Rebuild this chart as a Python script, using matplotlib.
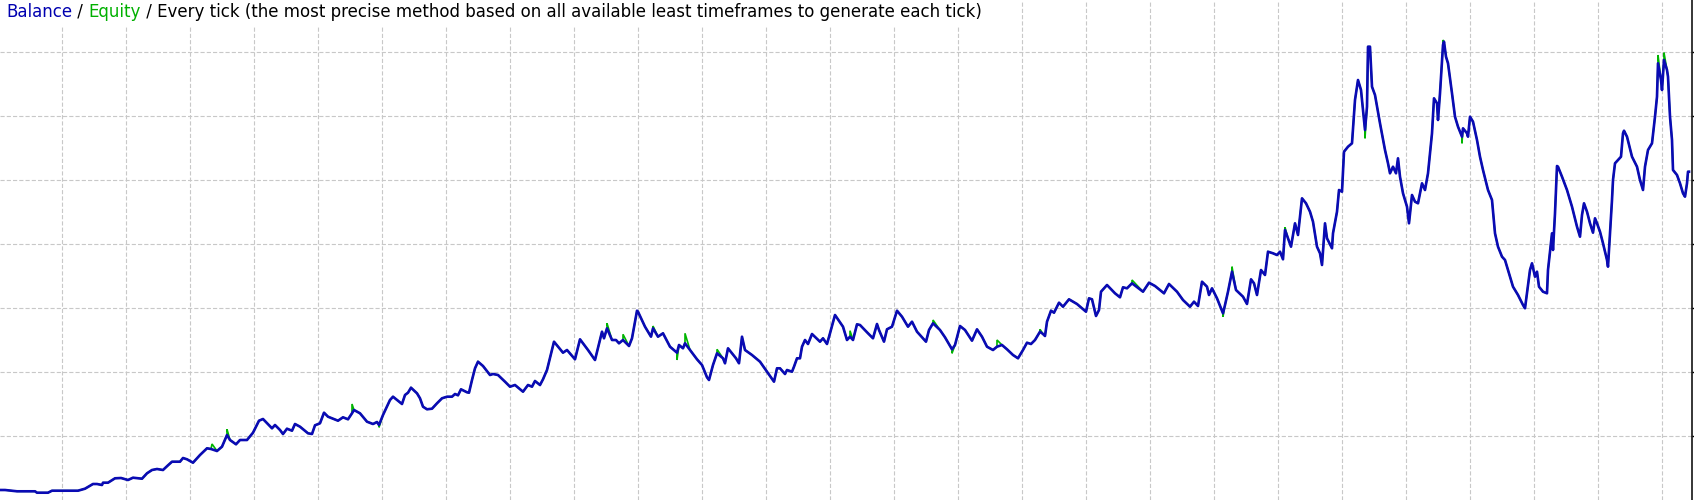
import numpy as np
import matplotlib
matplotlib.use('Agg')
import matplotlib.pyplot as plt

plt.rcParams['lines.scale_dashes'] = False
plt.rcParams['font.family'] = ['DejaVu Sans']

# balance curve (deal index, account balance)
deal = [0, 5, 17, 35, 37, 48, 52, 78, 85, 93, 97, 102, 103, 108, 115, 121, 128, 133, 142, 147,
        152, 157, 163, 168, 172, 180, 183, 187, 193, 200, 207, 211, 217, 222, 227, 230, 236, 240, 247, 253,
        259, 263, 272, 275, 280, 283, 287, 292, 295, 300, 308, 312, 315, 320, 324, 328, 338, 343, 348, 352,
        354, 360, 367, 373, 377, 379, 383, 390, 393, 402, 405, 408, 411, 417, 420, 423, 427, 432, 437, 442,
        447, 452, 455, 458, 461, 467, 469, 472, 475, 478, 483, 490, 493, 498, 505, 510, 515, 523, 528, 532,
        535, 540, 543, 547, 554, 563, 567, 575, 580, 588, 595, 602, 604, 607, 612, 616, 619, 623, 629, 632,
        637, 638, 645, 651, 653, 658, 663, 670, 677, 679, 683, 685, 690, 697, 702, 707, 709, 713, 717, 723,
        725, 728, 736, 739, 742, 745, 752, 760, 767, 774, 777, 780, 785, 787, 792, 794, 797, 800, 802, 805,
        808, 812, 820, 823, 827, 830, 835, 843, 847, 850, 853, 857, 860, 868, 873, 877, 879, 884, 887, 892,
        897, 902, 908, 912, 917, 926, 929, 933, 940, 945, 952, 955, 960, 965, 972, 977, 982, 987, 993, 997,
        1002, 1007, 1013, 1018, 1023, 1027, 1031, 1035, 1040, 1043, 1045, 1047, 1051, 1054, 1059, 1063, 1069, 1077, 1086, 1089,
        1092, 1096, 1099, 1101, 1107, 1115, 1120, 1123, 1127, 1132, 1143, 1149, 1155, 1164, 1169, 1177, 1183, 1190, 1194, 1198,
        1202, 1207, 1209, 1212, 1217, 1223, 1225, 1228, 1232, 1236, 1243, 1247, 1251, 1254, 1257, 1261, 1265, 1268, 1273, 1277,
        1280, 1283, 1285, 1288, 1291, 1295, 1298, 1302, 1306, 1310, 1313, 1317, 1320, 1322, 1325, 1327, 1332, 1333, 1337, 1339,
        1342, 1344, 1348, 1352, 1355, 1358, 1361, 1363, 1365, 1367, 1368, 1370, 1372, 1375, 1380, 1385, 1388, 1390, 1393, 1396,
        1398, 1400, 1403, 1407, 1409, 1412, 1415, 1418, 1422, 1425, 1428, 1432, 1434, 1437, 1438, 1440, 1443, 1444, 1446, 1448,
        1452, 1455, 1458, 1462, 1463, 1467, 1468, 1470, 1473, 1477, 1480, 1483, 1488, 1492, 1495, 1498, 1502, 1505, 1510, 1513,
        1518, 1523, 1525, 1527, 1530, 1532, 1535, 1537, 1539, 1543, 1547, 1548, 1552, 1553, 1555, 1557, 1558, 1562, 1567, 1572,
        1577, 1580, 1582, 1584, 1587, 1590, 1593, 1595, 1597, 1600, 1603, 1607, 1608, 1609, 1612, 1613, 1615, 1618, 1621, 1623,
        1624, 1627, 1632, 1637, 1640, 1643, 1645, 1648, 1652, 1655, 1657, 1658, 1661, 1662, 1664, 1667, 1668, 1670, 1672, 1673,
        1677, 1680, 1683, 1685, 1687, 1688, 1689]
balance = [10000, 10000, 9987, 9987, 9973, 9973, 9993, 9993, 10013, 10060, 10060, 10050, 10073, 10073, 10117, 10120, 10100, 10123, 10113, 10167,
           10200, 10210, 10200, 10247, 10283, 10283, 10320, 10307, 10273, 10350, 10417, 10410, 10390, 10433, 10550, 10500, 10457, 10500, 10500, 10573,
           10693, 10710, 10617, 10650, 10600, 10560, 10613, 10593, 10660, 10633, 10567, 10560, 10647, 10667, 10773, 10733, 10693, 10727, 10707, 10767,
           10800, 10767, 10683, 10660, 10680, 10650, 10750, 10900, 10933, 10860, 10950, 10973, 11023, 10967, 10917, 10833, 10807, 10813, 10867, 10917,
           10933, 10933, 10960, 10947, 11007, 10977, 10973, 11100, 11217, 11283, 11240, 11150, 11160, 11150, 11083, 11033, 11050, 10983, 11050, 11033,
           11090, 11050, 11107, 11200, 11483, 11373, 11400, 11307, 11507, 11400, 11300, 11583, 11517, 11617, 11500, 11500, 11467, 11500, 11440, 11517,
           11793, 11783, 11633, 11533, 11617, 11533, 11567, 11433, 11373, 11450, 11417, 11467, 11400, 11307, 11250, 11127, 11100, 11250, 11367, 11317,
           11267, 11417, 11317, 11267, 11533, 11400, 11350, 11283, 11183, 11083, 11217, 11217, 11160, 11200, 11183, 11233, 11317, 11317, 11433, 11500,
           11460, 11560, 11483, 11517, 11460, 11567, 11750, 11633, 11500, 11533, 11500, 11657, 11650, 11567, 11517, 11660, 11600, 11483, 11607, 11633,
           11793, 11733, 11633, 11683, 11583, 11483, 11600, 11667, 11600, 11527, 11407, 11450, 11640, 11600, 11493, 11607, 11533, 11433, 11400, 11433,
           11450, 11407, 11350, 11317, 11400, 11473, 11460, 11500, 11583, 11560, 11540, 11683, 11793, 11773, 11873, 11833, 11907, 11860, 11783, 11917,
           11907, 11740, 11800, 11983, 12050, 11967, 11927, 12027, 12017, 12067, 11983, 12073, 12040, 11967, 12060, 11983, 11900, 11833, 11883, 11840,
           12083, 12033, 11950, 12017, 11917, 11767, 11850, 11983, 12183, 12000, 11933, 11860, 12107, 12067, 11950, 12200, 12150, 12383, 12367, 12350,
           12383, 12307, 12600, 12517, 12433, 12667, 12550, 12917, 12867, 12783, 12683, 12433, 12367, 12250, 12667, 12517, 12417, 12567, 12783, 13000,
           12983, 13383, 13433, 13467, 13900, 14100, 14000, 13800, 13600, 13833, 14433, 14433, 14033, 13950, 13667, 13400, 13267, 13167, 13233, 13167,
           13317, 13133, 12967, 12833, 12667, 12950, 12883, 12867, 13067, 13000, 13167, 13567, 13917, 13867, 13700, 13967, 14450, 14483, 14333, 14267,
           13967, 13733, 13633, 13533, 13617, 13567, 13533, 13733, 13683, 13500, 13333, 13200, 13000, 12900, 12567, 12433, 12333, 12300, 12133, 12033,
           11950, 11850, 11817, 11967, 12200, 12267, 12133, 12183, 12033, 11983, 11967, 12200, 12567, 12400, 12767, 13240, 13233, 13133, 13000, 12833,
           12633, 12533, 12750, 12867, 12783, 12667, 12573, 12717, 12667, 12583, 12467, 12300, 12233, 12400, 12900, 13100, 13267, 13300, 13333, 13567,
           13593, 13533, 13333, 13233, 13100, 13000, 13233, 13400, 13467, 13733, 13933, 14267, 14100, 14000, 14300, 14200, 14133, 13733, 13500, 13200,
           13150, 13067, 12967, 12933, 13067, 13183, 13183]

# floating equity excursions (deal index, equity) where the green line shows
spike_deal = [212, 227, 352, 379, 607, 623, 653, 677, 685, 717, 850, 933, 952, 997,
              1040, 1132, 1223, 1232, 1285, 1365, 1443, 1462, 1658, 1664]
spike_equity = [10460, 10607, 10860, 10627, 11667, 11557, 11640, 11300, 11567, 11407, 11593, 11700, 11367, 11500,
                11607, 12100, 11733, 12233, 12627, 13517, 14500, 13467, 14350, 14373]

title_parts = [('Balance', '#0000B0'), (' / ', 'black'), ('Equity', '#00B000'),
               (' / Every tick (the most precise method based on all available least timeframes to generate each tick)', 'black')]

# equity = balance with the excursions merged in
eq_x = np.array(deal + spike_deal, dtype=float)
eq_y = np.array(balance + spike_equity, dtype=float)
order = np.argsort(eq_x, kind='stable')
eq_x, eq_y = eq_x[order], eq_y[order]

W, H = 1694, 500
fig = plt.figure(figsize=(W / 100, H / 100), dpi=100)
ax = fig.add_axes([0, 0, 1691.5 / W, 1])

ax.plot(eq_x, eq_y, color='#00B400', lw=1.2, solid_joinstyle='miter')
ax.plot(deal, balance, color='#0A0AB4', lw=1.9)

ax.set_xlim(0, 1691.5)
ax.set_ylim(9900, 14900)
ax.set_xticks(np.arange(62.3, 1690, 64))
ax.set_yticks(np.arange(10540, 14900, 640))
ax.grid(True, color='#C8C8C8', lw=0.8, dashes=(3, 1.5))
ax.set_axisbelow(True)

for s in ['left', 'top', 'bottom']:
    ax.spines[s].set_visible(False)
ax.spines['right'].set_color('black')
ax.spines['right'].set_linewidth(1.1)
ax.yaxis.tick_right()
ax.tick_params(axis='y', direction='out', length=2.5, width=1, labelright=False, right=True)
ax.tick_params(axis='x', length=0, labelbottom=False)

# title, one coloured piece after another
fig.canvas.draw()
r = fig.canvas.get_renderer()
x = 6
for txt, col in title_parts:
    t = fig.text(x / W, 1 - 12 / H, txt, color=col, fontsize=12, va='center', ha='left',
                 transform=fig.transFigure)
    x = t.get_window_extent(renderer=r).x1
fig.patches.append(plt.Rectangle((0, 1 - 26 / H), (x + 6) / W, 26 / H, transform=fig.transFigure,
                                 facecolor='white', edgecolor='none', zorder=0.5))
for t in fig.texts:
    t.set_zorder(3)

fig.savefig('out.png', dpi=100)
